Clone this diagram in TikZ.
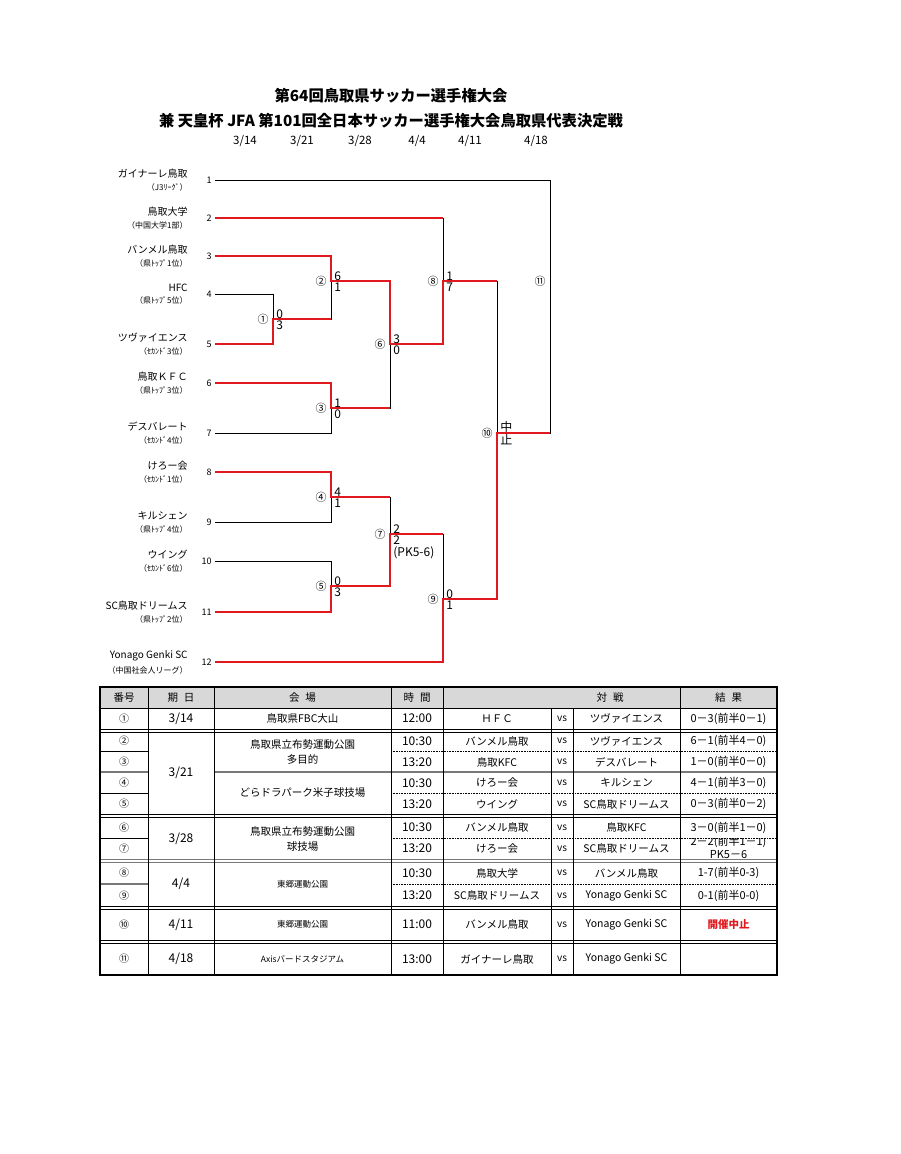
\documentclass[tikz,border=0pt]{standalone}
\usepackage{fontspec}
\setmainfont{Noto Sans CJK JP}
\usetikzlibrary{positioning}
\definecolor{winred}{RGB}{225,25,30}
\definecolor{headgray}{RGB}{216,216,216}
\definecolor{sepgray}{RGB}{120,120,120}

\begin{document}
\begin{tikzpicture}[x=1pt,y=-1pt,line width=0.8pt,
    title/.style={font=\fontsize{15.3}{17}\selectfont\bfseries,inner sep=0pt},
    date/.style={font=\fontsize{11.5}{13}\selectfont,inner sep=0pt},
    team/.style={anchor=east,font=\fontsize{10}{11}\selectfont,inner sep=0pt},
    sub label/.style={anchor=north east,font=\fontsize{8}{9}\selectfont,inner sep=0pt},
    seed/.style={anchor=east,font=\fontsize{9}{10}\selectfont,inner sep=0pt},
    score/.style={font=\fontsize{12}{13}\selectfont,inner sep=0pt,align=left},
    match no/.style={anchor=east,font=\fontsize{11}{12}\selectfont,inner sep=0pt},
    win line/.style={draw=winred,line width=2pt},
    cell/.style={font=\fontsize{10.5}{15}\selectfont,inner sep=0pt,align=center},
    num cell/.style={font=\fontsize{10}{11}\selectfont,inner sep=0pt},
    time cell/.style={font=\fontsize{12}{13}\selectfont,inner sep=0pt},
    res cell/.style={font=\fontsize{11}{12}\selectfont,inner sep=0pt},
    small cell/.style={font=\fontsize{8.5}{10}\selectfont,inner sep=0pt},
    dot rule/.style={line width=0.6pt,dash pattern=on 0.8pt off 0.8pt},
    gray rule/.style={draw=sepgray,line width=1.4pt}]

  \path[fill=white,use as bounding box] (0,0) rectangle (900,1154);

  \node[title] (title1) at (391,96) {第64回鳥取県サッカー選手権大会};
  \node[title] (title2) at (391,121) {兼 天皇杯 JFA 第101回全日本サッカー選手権大会鳥取県代表決定戦};

  \node[date] (d1) at (245,141) {3/14};
  \node[date] (d2) at (302,141) {3/21};
  \node[date] (d3) at (360,141) {3/28};
  \node[date] (d4) at (417,141) {4/4};
  \node[date] (d5) at (470,141) {4/11};
  \node[date] (d6) at (536,141) {4/18};

  \foreach \i/\y/\nm/\sb in {1/180/ガイナーレ鳥取/（J3ﾘｰｸﾞ）,2/218/鳥取大学/（中国大学1部）,
      3/256/バンメル鳥取/（県ﾄｯﾌﾟ1位）,4/294/HFC/（県ﾄｯﾌﾟ5位）,5/344/ツヴァイエンス/（ｾｶﾝﾄﾞ3位）,
      6/383/鳥取ＫＦＣ/（県ﾄｯﾌﾟ3位）,7/433/デスバレート/（ｾｶﾝﾄﾞ4位）,8/472/けろー会/（ｾｶﾝﾄﾞ1位）,
      9/522/キルシェン/（県ﾄｯﾌﾟ4位）,10/561/ウイング/（ｾｶﾝﾄﾞ6位）,11/612/SC鳥取ドリームス/（県ﾄｯﾌﾟ2位）,
      12/662/Yonago Genki SC/（中国社会人リーグ）}{
    \coordinate (t\i) at (215,\y);
    \node[seed] (s\i) at ([xshift=-3pt]t\i) {\i};
    \node[team,yshift=6.5pt] (n\i) at (188,\y) {\nm};
    \node[below=5pt of n\i.south east,sub label] (b\i) {\sb};
  }

  \coordinate (m1) at (273,319);
  \coordinate (m2) at (331,281);
  \coordinate (m3) at (331,408);
  \coordinate (m4) at (331,497);
  \coordinate (m5) at (331,586);
  \coordinate (m6) at (390,344);
  \coordinate (m7) at (390,534);
  \coordinate (m8) at (443,281);
  \coordinate (m9) at (443,599);
  \coordinate (m10) at (497,433);
  \coordinate (m11) at (550,281);

  \foreach \a/\b in {t4/m1,t5/m1,t3/m2,m1/m2,t6/m3,t7/m3,t8/m4,t9/m4,t10/m5,t11/m5,
      m2/m6,m3/m6,m4/m7,m5/m7,t2/m8,m6/m8,m7/m9,t12/m9,m8/m10,m9/m10,t1/m11,m10/m11}
    \draw (\a) -| (\b);

  \draw[win line] (t5) -| (m1) -- (m2 |- m1);
  \draw[win line] (t3) -| (m2) -| (m6) -| (m8) -- (m10 |- m8);
  \draw[win line] (t6) -| (m3) -- (m6 |- m3);
  \draw[win line] (t2) -- (m8 |- t2);
  \draw[win line] (t8) -| (m4) -- (m7 |- m4);
  \draw[win line] (t11) -| (m5) -| (m7) -- (m9 |- m7);
  \draw[win line] (t12) -| (m9) -| (m10) -- (m11 |- m10);

  \foreach \m/\no/\up/\dn in {m1/①/0/3,m2/②/6/1,m3/③/1/0,m4/④/4/1,m5/⑤/0/3,
      m6/⑥/3/0,m7/⑦/2/2,m8/⑧/1/7,m9/⑨/0/1,m10/⑩/中/止}{
    \node[match no] (\m-no) at ([xshift=-4pt]\m) {\no};
    \node[score,anchor=south west] (\m-up) at ([xshift=3pt]\m) {\up};
    \node[score,anchor=north west] (\m-dn) at ([xshift=3pt,yshift=-1.5pt]\m) {\dn};
  }
  \node[score,anchor=north west] (pk) at ([yshift=-1pt]m7-dn.south west) {(PK5-6)};
  \node[match no] (m11-no) at ([xshift=-4pt]m11) {⑪};

  \fill[headgray] (100,687) rectangle (777,708);
  \draw (100,708) -- (777,708);
  \foreach \y in {729,732,814,817,906,909,940,943}
    \draw (100,\y) -- (777,\y);
  \foreach \y in {859,862}
    \draw[draw=sepgray] (100,\y) -- (777,\y);
  \foreach \y in {751,793,838}{
    \draw (100,\y) -- (148,\y);
    \draw[dot rule] (391,\y) -- (777,\y);
  }
  \draw[gray rule] (100,884) -- (148,884);
  \draw[dot rule] (391,884) -- (777,884);
  \draw[gray rule] (100,772) -- (148,772) (214,772) -- (777,772);
  \foreach \x in {148,214,391,443,680}
    \draw (\x,687) -- (\x,975);
  \foreach \x in {551,573}
    \draw (\x,708) -- (\x,975);
  \draw[line width=1.6pt] (100,687) rectangle (777,975);

  \node[cell] (h1) at (124,698) {番号};
  \node[cell] (h2) at (181,698) {期\hspace{6pt}日};
  \node[cell] (h3) at (302.5,698) {会\hspace{6pt}場};
  \node[cell] (h4) at (417,698) {時\hspace{6pt}間};
  \node[cell] (h5) at (610,698) {対\hspace{6pt}戦};
  \node[cell] (h6) at (728.5,698) {結\hspace{6pt}果};

  \foreach \k/\y/\no/\tm/\ta/\tb/\res in {1/718.5/①/12:00/ＨＦＣ/ツヴァイエンス/0－3(前半0－1),
      2/741/②/10:30/バンメル鳥取/ツヴァイエンス/6－1(前半4－0),
      3/762/③/13:20/鳥取KFC/デスバレート/1－0(前半0－0),
      4/783/④/10:30/けろー会/キルシェン/4－1(前半3－0),
      5/804/⑤/13:20/ウイング/SC鳥取ドリームス/0－3(前半0－2),
      6/827.5/⑥/10:30/バンメル鳥取/鳥取KFC/3－0(前半1－0),
      7/848.5/⑦/13:20/けろー会/SC鳥取ドリームス/{},
      8/873/⑧/10:30/鳥取大学/バンメル鳥取/1-7(前半0-3),
      9/895.5/⑨/13:20/SC鳥取ドリームス/Yonago Genki SC/0-1(前半0-0),
      10/924.5/⑩/11:00/バンメル鳥取/Yonago Genki SC/{},
      11/959/⑪/13:00/ガイナーレ鳥取/Yonago Genki SC/{}}{
    \node[num cell] (no\k) at (124,\y) {\no};
    \node[time cell] (tm\k) at (417,\y) {\tm};
    \node[cell] (ta\k) at (497,\y) {\ta};
    \node[num cell] (vs\k) at (562,\y) {vs};
    \node[cell] (tb\k) at (626.5,\y) {\tb};
    \node[res cell] (rs\k) at (728.5,\y) {\res};
  }

  \node[time cell] (dt1) at (181,718.5) {3/14};
  \node[time cell] (dt2) at (181,773) {3/21};
  \node[time cell] (dt3) at (181,838.5) {3/28};
  \node[time cell] (dt4) at (181,884) {4/4};
  \node[time cell] (dt5) at (181,924.5) {4/11};
  \node[time cell] (dt6) at (181,959) {4/18};

  \node[cell] (vn1) at (302.5,718.5) {鳥取県FBC大山};
  \node[cell] (vn2) at (302.5,752) {鳥取県立布勢運動公園\\多目的};
  \node[cell] (vn3) at (302.5,793) {どらドラパーク米子球技場};
  \node[cell] (vn4) at (302.5,838.5) {鳥取県立布勢運動公園\\球技場};
  \node[small cell] (vn5) at (302.5,884) {東郷運動公園};
  \node[small cell] (vn6) at (302.5,924.5) {東郷運動公園};
  \node[small cell] (vn7) at (302.5,959) {Axisバードスタジアム};

  \begin{scope}
    \clip (680,838) rectangle (777,859);
    \node[cell,font=\fontsize{11}{13}\selectfont] (pkres) at (728.5,847) {2－2(前半1－1)\\PK5－6};
  \end{scope}
  \node[cell,text=winred,font=\fontsize{10.5}{12}\selectfont\bfseries] (stop) at (728.5,924.5) {開催中止};
\end{tikzpicture}
\end{document}
